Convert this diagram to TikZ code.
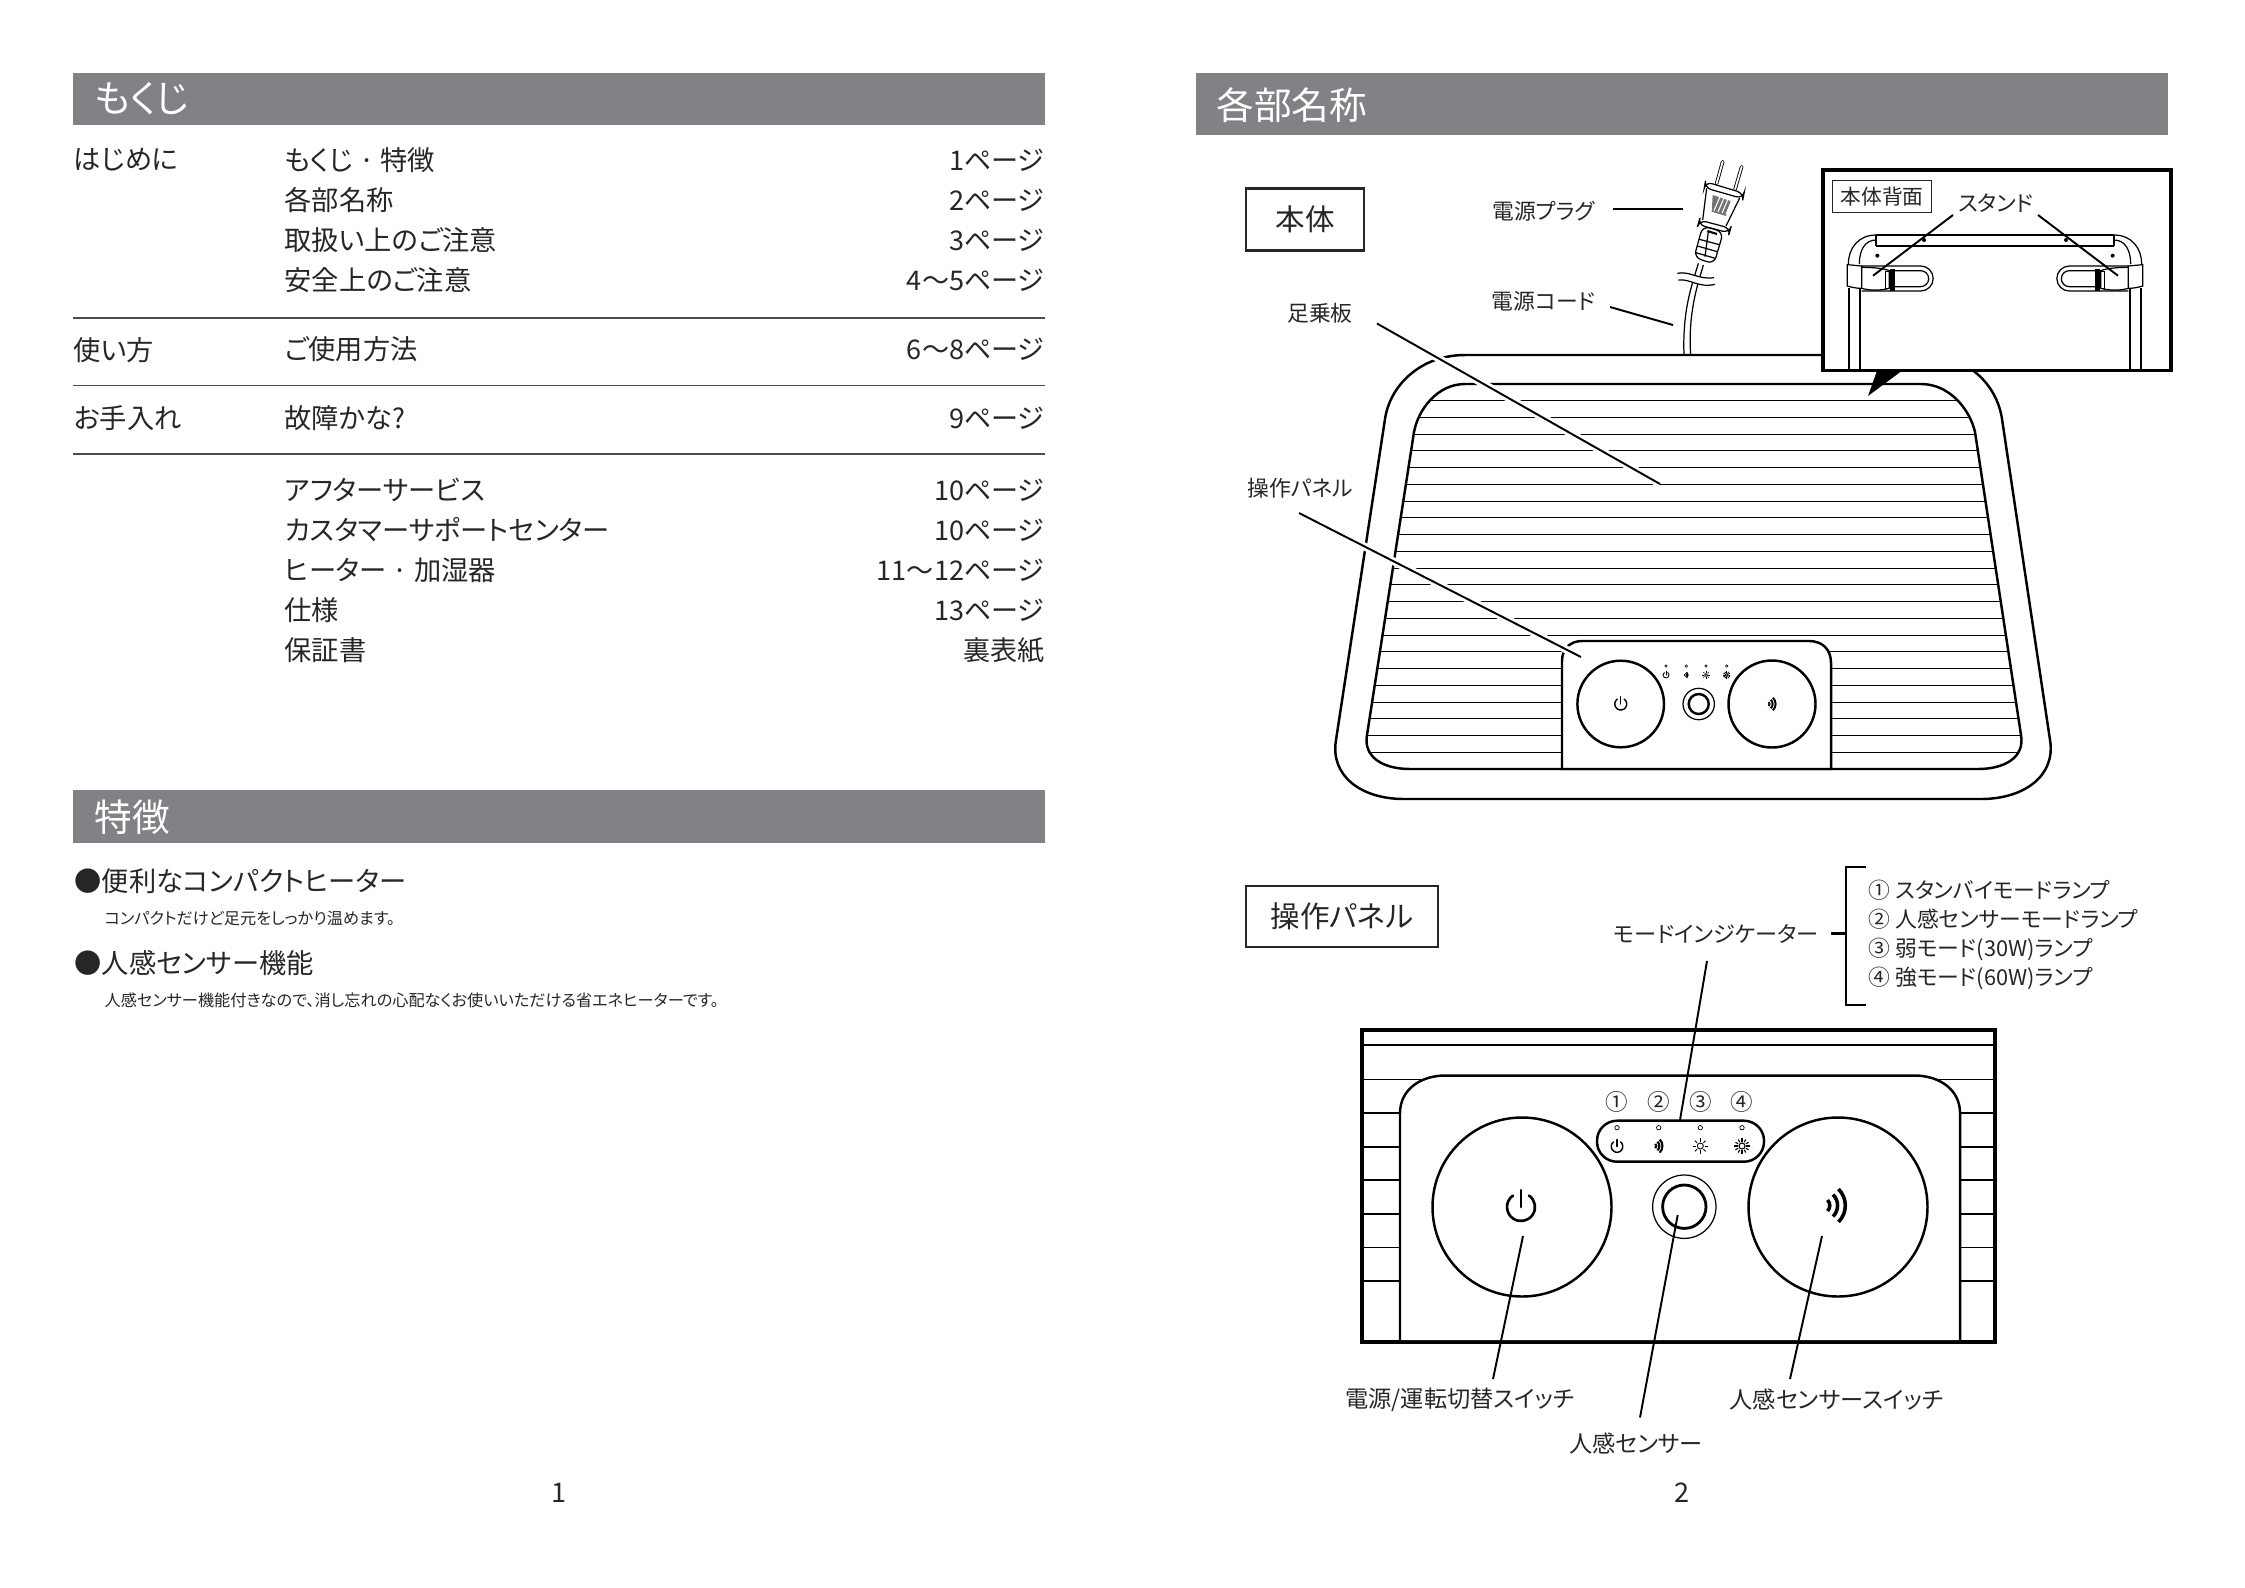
\documentclass[tikz,border=0pt]{standalone}
\usepackage{fontspec}
\setmainfont{Noto Sans CJK JP}[RawFeature=+palt]
\definecolor{bargray}{RGB}{128,130,133}
\newcommand{\fs}[1]{\fontsize{#1}{#1}\selectfont}
\newcommand{\innerbody}{(1465,384) -- (1921,384) .. controls (1950,384) and (1970,410) .. (1975,432) -- (2021,735) .. controls (2025,757) and (2005,769) .. (1978,769) -- (1410,769) .. controls (1383,769) and (1363,757) .. (1367,735) -- (1414,432) .. controls (1418,410) and (1437,384) .. (1465,384) -- cycle}
\newcommand{\powericon}[3]{\begin{scope}[shift={#1},scale=#2,line width=#3,line cap=round]
	\draw (-55:1) arc[start angle=-55,end angle=235,radius=1];
	\draw (0,-1.2) -- (0,0);
\end{scope}}
\newcommand{\waveicon}[3]{\begin{scope}[shift={#1},scale=#2,line width=#3]
	\foreach \rr in {.5,1,1.5}
		\draw ({\rr*cos(45)-.9},{-\rr*sin(45)}) arc[start angle=-45,end angle=45,radius=\rr];
\end{scope}}
\newcommand{\sunicon}[4]{\begin{scope}[shift={#1},scale=#2,line width=#3]
	\draw (0,0) circle[radius=.42];
	\foreach \aa in {#4}
		\draw (\aa:.62) -- (\aa:1.05);
\end{scope}}
\newcommand{\standhalf}{%
	\draw[thinline] (87,385) -- (87,632) (120,385) -- (120,632);
	\draw[thinline] (168,225) .. controls (115,225) and (85,265) .. (85,312);
	\draw[thinline] (168,240) .. controls (135,240) and (118,270) .. (118,312);
	\draw[thinline] (168,225) -- (168,258);
	\draw[thinline] (125,318) -- (302,318) arc[start angle=-90,end angle=90,radius=37.5] -- (125,393);
	\draw[thinline] (222,332) -- (302,332) arc[start angle=-90,end angle=90,radius=24] -- (222,380);
	\draw[thinline,fill=white] (82,314) -- (125,318) -- (125,385) .. controls (110,385) and (95,382) .. (82,378) -- cycle;
	\draw[thinline] (125,322) .. controls (160,322) and (190,325) .. (208,332) -- (208,385) .. controls (180,392) and (150,392) .. (125,385);
	\fill (211,328) rectangle (224,393);
	\draw[thinline] (197,335) rectangle (208,385);
	\fill (172,287) circle[radius=6];
	\fill (312,240) circle[radius=6];
}
\begin{document}
\begin{tikzpicture}
	[x=0.01cm,y=-0.01cm,every node/.style={inner sep=0pt,text=black!85},
	leader/.style={line width=.55pt,preaction={draw=white,line width=2.2pt}},
	plainlead/.style={line width=.55pt},
	thinline/.style={line width=.35pt},
	slat/.style={line width=.32pt},
	bodyline/.style={line width=.7pt},
	headbar/.style={fill=bargray},
	headtext/.style={anchor=west,text=white,font=\fs{10.7}},
	item/.style={anchor=west,font=\fs{7.75}},
	pageno/.style={anchor=east,font=\fs{7.7}},
	tocrule/.style={line width=.4pt,black!70},
	note/.style={anchor=west,font=\fs{4.6}},
	part/.style={font=\fs{6.2}},
	callout/.style={font=\fs{6.6}},
	namebox/.style={draw=black!85,line width=.8pt,font=\fs{8.4}}]
	\useasboundingbox (0,0) rectangle (2245,1587);

	\fill[headbar] (73,73) rectangle (1045,125);
	\fill[headbar] (73,790) rectangle (1045,843);
	\fill[headbar] (1196,73) rectangle (2168,135);
	\node[headtext] (head0) at (94,99) {もくじ};
	\node[headtext] (head1) at (94,817) {特徴};
	\node[headtext] (head2) at (1216,105) {各部名称};

	\node[item] (sec0) at (73,160) {はじめに};
	\node[item] (sec1) at (73,350) {使い方};
	\node[item] (sec2) at (73,418) {お手入れ};
	\node[item] (t0) at (284,160) {もくじ · 特徴};
	\node[item] (t1) at (284,200.5) {各部名称};
	\node[item] (t2) at (284,240.5) {取扱い上のご注意};
	\node[item] (t3) at (284,280.5) {安全上のご注意};
	\node[item] (t4) at (284,349) {ご使用方法};
	\node[item] (t5) at (284,418) {故障かな?};
	\node[item] (t6) at (284,490) {アフターサービス};
	\node[item] (t7) at (284,530) {カスタマーサポートセンター};
	\node[item] (t8) at (284,570) {ヒーター · 加湿器};
	\node[item] (t9) at (284,610) {仕様};
	\node[item] (t10) at (284,650) {保証書};
	\node[pageno] (p0) at (1045,160) {1ページ};
	\node[pageno] (p1) at (1045,200.5) {2ページ};
	\node[pageno] (p2) at (1045,240.5) {3ページ};
	\node[pageno] (p3) at (1045,280.5) {4〜5ページ};
	\node[pageno] (p4) at (1045,349) {6〜8ページ};
	\node[pageno] (p5) at (1045,418) {9ページ};
	\node[pageno] (p6) at (1045,490) {10ページ};
	\node[pageno] (p7) at (1045,530) {10ページ};
	\node[pageno] (p8) at (1045,570) {11〜12ページ};
	\node[pageno] (p9) at (1045,610) {13ページ};
	\node[pageno] (p10) at (1045,650) {裏表紙};
	\draw[tocrule] (73,318) -- (1045,318);
	\draw[tocrule] (73,385.5) -- (1045,385.5);
	\draw[tocrule] (73,454) -- (1045,454);

	\node[item] (f0) at (74,881) {●便利なコンパクトヒーター};
	\node[note] (f1) at (104,918.5) {コンパクトだけど足元をしっかり温めます。};
	\node[item] (f2) at (74,963) {●人感センサー機能};
	\node[note] (f3) at (104,1000) {人感センサー機能付きなので、消し忘れの心配なくお使いいただける省エネヒーターです。};
	\node[font=\fs{7.7}] (num1) at (559,1493) {1};
	\node[font=\fs{7.7}] (num2) at (1682,1493) {2};

	\node[namebox] (mainbox) at (1305,219.5) [minimum width=1.18cm,minimum height=.62cm] {本体};
	\node[namebox] (panelbox) at (1342,916.5) [minimum width=1.92cm,minimum height=.61cm] {操作パネル};

	\draw[bodyline] (1465,355) -- (1924,355) .. controls (1968,355) and (1997,385) .. (2002,419) -- (2050,740) .. controls (2056,775) and (2025,799) .. (1981,799) -- (1404,799) .. controls (1360,799) and (1330,775) .. (1336,740) -- (1385,419) .. controls (1390,385) and (1421,355) .. (1465,355) -- cycle;
	\draw[bodyline] \innerbody;
	\begin{scope}
		\clip \innerbody;
		\foreach \k in {0,...,21}
			\draw[slat] (1340,400.6+16.75*\k) -- (2040,400.6+16.75*\k);
	\end{scope}
	\draw[bodyline,fill=white] (1562,769) -- (1562,661) .. controls (1562,649) and (1570,641) .. (1582,641) -- (1809,641) .. controls (1822,641) and (1831,649) .. (1831,663) -- (1831,769) -- cycle;
	\draw[bodyline] (1620.7,704) circle[radius=43.3];
	\draw[bodyline] (1772,704) circle[radius=43.5];
	\draw[thinline] (1698.7,704) circle[radius=15.7];
	\draw[bodyline] (1698.7,704) circle[radius=10];
	\foreach \lx in {1666,1686.3,1706,1726.7}
		\draw[line width=.15pt] (\lx,666) circle[radius=1.3];
	\powericon{(1666,675)}{3}{.25pt}
	\waveicon{(1686.3,675)}{2.8}{.35pt}
	\sunicon{(1706,675)}{3.5}{.2pt}{0,45,...,315}
	\sunicon{(1726.7,675)}{3.5}{.25pt}{0,30,...,330}
	\powericon{(1620.7,704)}{6}{.4pt}
	\waveicon{(1772,704)}{6}{.55pt}

	\begin{scope}[shift={(1640,140)},scale=1/3]
		\draw[line width=.25pt,double,double distance=.5pt,line cap=round] (248,65) -- (230,130);
		\draw[line width=.25pt,double,double distance=.5pt,line cap=round] (305,80) -- (285,148);
		\draw[thinline,fill=white,rounded corners=2pt] (196,125) -- (312,160) -- (309,176) -- (193,143) -- cycle;
		\draw[thinline] (200,145) -- (188,240) (299,174) -- (258,258);
		\fill[black!55] (218,165) -- (272,183) -- (258,228) -- (215,215) -- cycle;
		\foreach \h in {0,12,24,36}
			\draw[white,line width=.3pt] (222+\h,212+\h*.3) -- (240+\h,170+\h*.3);
		\draw[thinline,fill=white,rounded corners=2pt] (178,240) -- (272,265) -- (268,279) -- (174,254) -- cycle;
		\draw[thinline,fill=white,rounded corners=2pt] (188,258) -- (250,276) -- (222,372) -- (162,352) -- cycle;
		\draw[thinline] (178,298) -- (238,314) (172,318) -- (232,335) (167,338) -- (226,355) (205,275) -- (195,350);
		\fill (203,270) -- (232,279) -- (230,285) -- (201,276) -- cycle;
		\draw[thinline] (175,370) -- (160,420) .. controls (145,470) and (128,540) .. (132,644);
		\draw[thinline] (190,375) -- (174,430) .. controls (158,490) and (146,560) .. (152,644);
		\fill[white] (112,400) .. controls (150,392) and (175,420) .. (222,413) -- (225,433) .. controls (175,445) and (150,415) .. (118,420) -- cycle;
		\draw[thinline] (112,400) .. controls (150,392) and (175,420) .. (222,413);
		\draw[thinline] (115,420) .. controls (150,415) and (175,445) .. (225,433);
	\end{scope}

	\node[part] (plugtxt) at (1543.5,211) {電源プラグ};
	\node[part] (cordtxt) at (1543.5,301) {電源コード};
	\node[part] (steptxt) at (1320,313) {足乗板};
	\node[part] (paneltxt) at (1300,488) {操作パネル};
	\coordinate (plug0) at (1613,209);
	\coordinate (plug1) at (1683,209);
	\coordinate (cord0) at (1610,307);
	\coordinate (cord1) at (1673,325);
	\coordinate (step0) at (1377,323.5);
	\coordinate (step1) at (1660,484);
	\coordinate (panel0) at (1299,513);
	\coordinate (panel1) at (1581,657);
	\draw[plainlead] (plug0) -- (plug1);
	\draw[plainlead] (cord0) -- (cord1);
	\draw[leader] (step0) -- (step1);
	\draw[leader] (panel0) -- (panel1);

	\fill[white] (1823,170) rectangle (2171,370.7);
	\begin{scope}[shift={(1820,160)},scale=1/3]
		\standhalf
		\begin{scope}[shift={(1050,0)},xscale=-1]
			\standhalf
		\end{scope}
		\draw[thinline] (168,225) -- (882,225) (168,258) -- (882,258);
	\end{scope}
	\draw[line width=.9pt] (1823,170) rectangle (2171,370.7);
	\fill (1877,370.7) -- (1902,370.7) -- (1868,396) -- cycle;
	\node[draw=black!85,line width=.4pt,minimum width=.99cm,minimum height=.325cm,font=\fs{5.9}] (backbox) at (1882,196.5) {本体背面};
	\node[part] (standtxt) at (1996,203) {スタンド};
	\coordinate (stand0) at (1953,215);
	\coordinate (stand1) at (1873,275.7);
	\coordinate (stand2) at (2038,215);
	\coordinate (stand3) at (2118,275.7);
	\draw[plainlead] (stand0) -- (stand1);
	\draw[plainlead] (stand2) -- (stand3);

	\draw[line width=1.4pt] (1362,1030) rectangle (1995,1342);
	\draw[line width=.55pt] (1364,1045) -- (1993,1045);
	\foreach \sy in {1079.5,1113,1146.7,1180,1214,1247.5,1281}
		\draw[line width=.5pt] (1364,\sy) -- (1993,\sy);
	\draw[bodyline,fill=white] (1400,1340) -- (1400,1113) .. controls (1400,1090) and (1420,1075.5) .. (1445.5,1075.5) -- (1914,1075.5) .. controls (1940,1075.5) and (1960,1090) .. (1960,1113) -- (1960,1340);
	\draw[bodyline] (1522,1207) circle[radius=89.5];
	\draw[bodyline] (1838,1207) circle[radius=89.5];
	\draw[thinline] (1684.3,1206.7) circle[radius=31.7];
	\draw[line width=.8pt] (1684.3,1206.7) circle[radius=21.7];
	\draw[bodyline,rounded corners=.2cm] (1597,1120.7) rectangle (1764,1161.7);
	\foreach \lx/\nm/\lbl in {1617/c1/①,1658.7/c2/②,1700.3/c3/③,1742/c4/④} {
		\draw[line width=.2pt] (\lx,1127.7) circle[radius=2.2];
		\node[font=\fs{6.4}] (\nm) at (\lx,1101.7) {\lbl};
	}
	\powericon{(1617,1146.5)}{5.8}{.4pt}
	\waveicon{(1658.7,1146)}{6.2}{.6pt}
	\sunicon{(1700.3,1146)}{7.2}{.25pt}{0,45,...,315}
	\sunicon{(1742,1146)}{7.2}{.3pt}{0,30,...,330}
	\powericon{(1521,1207)}{14}{.75pt}
	\waveicon{(1836,1205.5)}{15.5}{1pt}

	\node[font=\fs{6.3},anchor=west] (modetxt) at (1613,933.5) {モードインジケーター};
	\node[part,anchor=west] (m1) at (1868,890.5) {① スタンバイモードランプ};
	\node[part,anchor=west] (m2) at (1868,919.5) {② 人感センサーモードランプ};
	\node[part,anchor=west] (m3) at (1868,949.5) {③ 弱モード(30W)ランプ};
	\node[part,anchor=west] (m4) at (1868,978.5) {④ 強モード(60W)ランプ};
	\coordinate (tick0) at (1831,933.5);
	\coordinate (tick1) at (1846,933.5);
	\coordinate (brace0) at (1866,867);
	\coordinate (brace1) at (1846,867);
	\coordinate (brace2) at (1846,1005);
	\coordinate (brace3) at (1866,1005);
	\draw[line width=.6pt] (tick0) -- (tick1);
	\draw[line width=.6pt] (brace0) -- (brace1) -- (brace2) -- (brace3);

	\node[callout] (powertxt) at (1460,1400) {電源/運転切替スイッチ};
	\node[callout] (sensetxt) at (1636,1443) {人感センサー};
	\node[callout] (switchtxt) at (1836.5,1400) {人感センサースイッチ};
	\coordinate (mode0) at (1707,961);
	\coordinate (mode1) at (1680,1120);
	\coordinate (power0) at (1523,1236);
	\coordinate (power1) at (1493,1379);
	\coordinate (sense0) at (1677.7,1215);
	\coordinate (sense1) at (1640,1417.5);
	\coordinate (switch0) at (1822,1236);
	\coordinate (switch1) at (1790,1379);
	\draw[plainlead] (mode0) -- (mode1);
	\draw[plainlead] (power0) -- (power1);
	\draw[plainlead] (sense0) -- (sense1);
	\draw[plainlead] (switch0) -- (switch1);
\end{tikzpicture}
\end{document}
